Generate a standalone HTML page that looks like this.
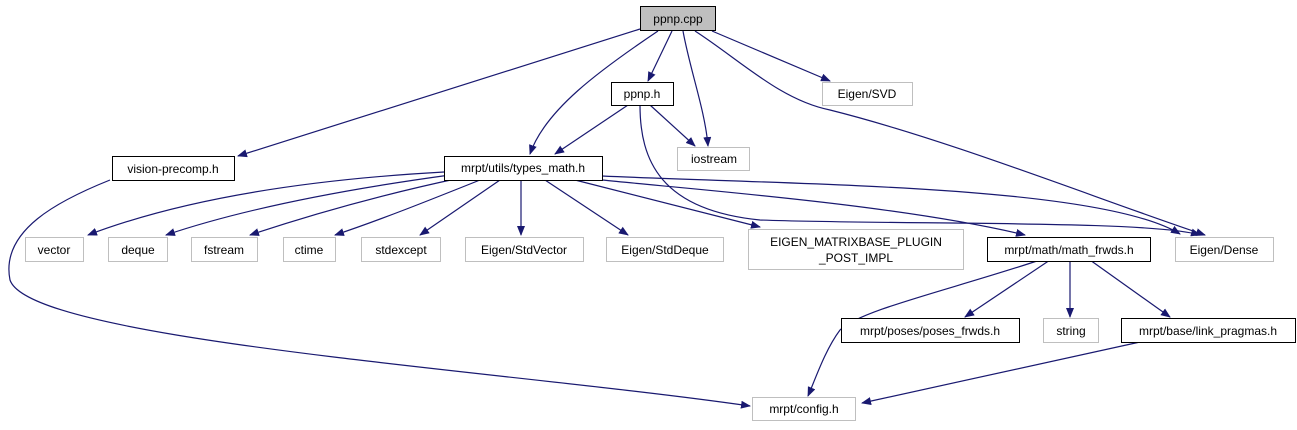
<!DOCTYPE html>
<html><head><meta charset="utf-8"><style>
body{margin:0;background:#fff}
svg text{font-family:"Liberation Sans",sans-serif;font-size:12px;text-anchor:middle}
</style></head><body>
<svg width="1297" height="425" viewBox="0 0 1297 425" xmlns="http://www.w3.org/2000/svg">
<defs><marker id="a" markerWidth="10" markerHeight="8" refX="9" refY="4" orient="auto" markerUnits="userSpaceOnUse"><path d="M0,0 L10,4 L0,8 z" fill="#191970"/></marker></defs>
<g fill="none" stroke="#191970" stroke-width="1.2" marker-end="url(#a)">
<path d="M640,29 L238,156"/>
<path d="M658,31 C600,70 545,110 530,154"/>
<path d="M672,31 L648,81"/>
<path d="M683,31 C690,70 705,110 708,146"/>
<path d="M695,31 C740,60 780,100 830,110 C950,140 1100,200 1205,235"/>
<path d="M712,31 L830,81"/>
<path d="M628,105 L555,154"/>
<path d="M650,105 L695,146"/>
<path d="M640,105 C640,160 660,210 760,220 C900,225 1150,220 1200,235"/>
<path d="M444,172 C300,180 180,200 88,235"/>
<path d="M450,175 C340,190 240,210 166,235"/>
<path d="M460,178 C380,195 310,215 250,235"/>
<path d="M480,180 C430,200 380,220 335,235"/>
<path d="M500,180 L420,235"/>
<path d="M521,180 L521,235"/>
<path d="M545,180 L628,235"/>
<path d="M575,180 L760,227"/>
<path d="M602,180 C700,190 900,205 1025,235"/>
<path d="M602,176 C800,185 1100,185 1180,234"/>
<path d="M110,180 C60,200 0,230 10,280 C30,340 500,370 750,406"/>
<path d="M1040,260 C950,290 860,310 840,330 C825,350 815,380 808,396"/>
<path d="M1050,260 L965,317"/>
<path d="M1070,260 L1070,317"/>
<path d="M1090,260 L1170,317"/>
<path d="M1140,342 L862,403"/>
</g>
<g stroke-width="1">
<rect x="640.5" y="6.5" width="75" height="24" fill="#bfbfbf" stroke="#000"/>
<text x="678" y="23">ppnp.cpp</text>
<rect x="611.5" y="82.5" width="62" height="23" fill="#fff" stroke="#000"/>
<text x="642" y="98">ppnp.h</text>
<rect x="822.5" y="82.5" width="90" height="23" fill="#fff" stroke="#bfbfbf"/>
<text x="867" y="98">Eigen/SVD</text>
<rect x="677.5" y="147.5" width="72" height="23" fill="#fff" stroke="#bfbfbf"/>
<text x="714" y="163">iostream</text>
<rect x="112.5" y="156.5" width="122" height="24" fill="#fff" stroke="#000"/>
<text x="173" y="173">vision-precomp.h</text>
<rect x="444.5" y="156.5" width="158" height="24" fill="#fff" stroke="#000"/>
<text x="523" y="172">mrpt/utils/types_math.h</text>
<g fill="#fff" stroke="#bfbfbf">
<rect x="25.5" y="237.5" width="58" height="24"/>
<rect x="108.5" y="237.5" width="59" height="24"/>
<rect x="191.5" y="237.5" width="66" height="24"/>
<rect x="283.5" y="237.5" width="52" height="24"/>
<rect x="361.5" y="237.5" width="79" height="24"/>
<rect x="465.5" y="237.5" width="118" height="24"/>
<rect x="606.5" y="237.5" width="117" height="24"/>
<rect x="748.5" y="229.5" width="215" height="40"/>
<rect x="1175.5" y="237.5" width="98" height="24"/>
<rect x="1043.5" y="318.5" width="55" height="24"/>
<rect x="752.5" y="397.5" width="103" height="23"/>
</g>
<text x="54" y="254">vector</text>
<text x="138" y="254">deque</text>
<text x="224" y="254">fstream</text>
<text x="309" y="254">ctime</text>
<text x="401" y="254">stdexcept</text>
<text x="524" y="254">Eigen/StdVector</text>
<text x="665" y="254">Eigen/StdDeque</text>
<text x="856" y="246">EIGEN_MATRIXBASE_PLUGIN</text>
<text x="856" y="262">_POST_IMPL</text>
<text x="1224" y="254">Eigen/Dense</text>
<rect x="987.5" y="237.5" width="163" height="24" fill="#fff" stroke="#000"/>
<text x="1069" y="254">mrpt/math/math_frwds.h</text>
<rect x="841.5" y="318.5" width="178" height="24" fill="#fff" stroke="#000"/>
<text x="930" y="335">mrpt/poses/poses_frwds.h</text>
<text x="1071" y="335">string</text>
<rect x="1121.5" y="318.5" width="174" height="24" fill="#fff" stroke="#000"/>
<text x="1208" y="335">mrpt/base/link_pragmas.h</text>
<text x="804" y="413">mrpt/config.h</text>
</g>
</svg>
</body></html>
